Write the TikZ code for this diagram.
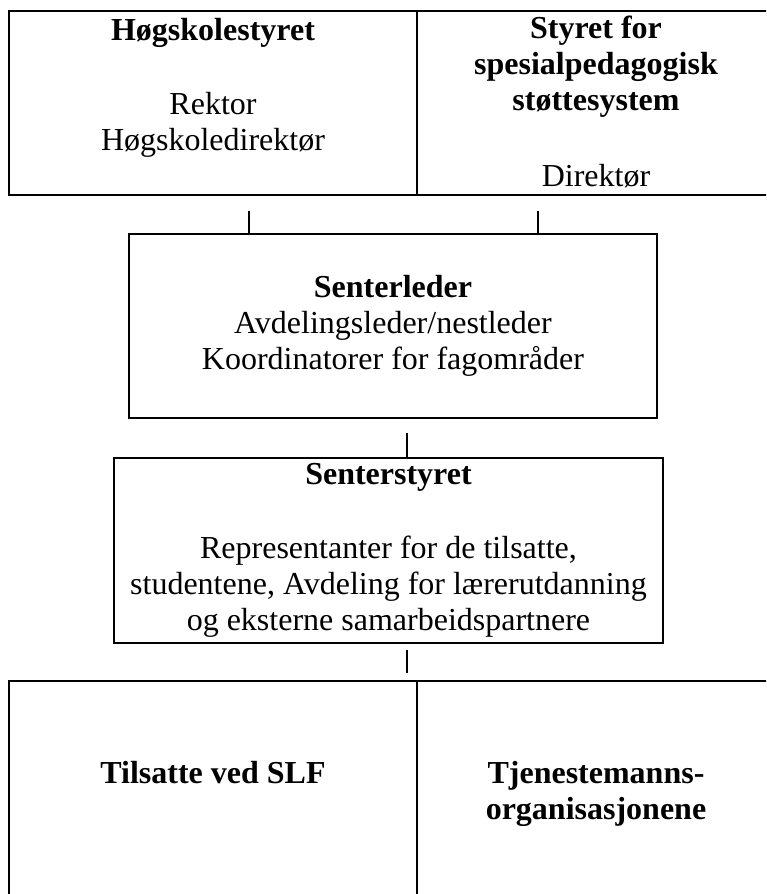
\documentclass[tikz,border=0pt]{standalone}
\usepackage{fontspec}
\setmainfont{Liberation Serif}
\usetikzlibrary{positioning}

\tikzset{
	orgbox/.style={draw, line width=1.1pt, inner sep=0pt},
	link/.style={line width=0.6pt},
	txt/.style={align=center, inner sep=0pt, font=\fontsize{16}{18}\selectfont},
}

\begin{document}
\begin{tikzpicture}[x=0.5pt, y=-0.5pt]
	\useasboundingbox (0,0) rectangle (766,894);
	\clip (0,0) rectangle (766,894);
	% the two boards on top
	\node[orgbox, minimum width=204pt, minimum height=92pt] (hs) at (213,103) {};
	\node[orgbox, minimum width=179pt, minimum height=92pt] (sps) at (596,103) {};
	\node[txt, below=4.2pt of hs.north] (hsT) {\textbf{Høgskolestyret}\\[19pt]Rektor\\Høgskoledirektør};
	\node[txt, below=3pt of sps.north] (spsT) {\textbf{Styret for}\\\textbf{spesialpedagogisk}\\\textbf{støttesystem}\\[20pt]Direktør};
	% centre
	\node[orgbox, txt, minimum width=264pt, minimum height=92pt] (sl) at (393,326)
		{\textbf{Senterleder}\\Avdelingsleder/nestleder\\Koordinatorer for fagområder};
	\node[orgbox, txt, minimum width=274.5pt, minimum height=92.5pt] (ss) at (388.5,550.5)
		{\textbf{Senterstyret}\\[19pt]Representanter for de tilsatte,\\studentene, Avdeling for lærerutdanning\\og eksterne samarbeidspartnere};
	% bottom row
	\node[orgbox, minimum width=204pt, minimum height=120pt] (tv) at (213,801) {};
	\node[orgbox, minimum width=179pt, minimum height=120pt] (to) at (596,801) {};
	\node[txt, below=40.5pt of tv.north] (tvT) {\textbf{Tilsatte ved SLF}};
	\node[txt, below=40.5pt of to.north] (toT) {\textbf{Tjenestemanns-}\\\textbf{organisasjonene}};
	% lines
	\coordinate (k1) at (249,211);
	\coordinate (k2) at (538,211);
	\coordinate (k3) at (407,433);
	\coordinate (k4) at (407,650);
	\coordinate (k5) at (407,673);
	\draw[link] (k1) -- (k1 |- sl.north);
	\draw[link] (k2) -- (k2 |- sl.north);
	\draw[link] (k3) -- (k3 |- ss.north);
	\draw[link] (k4) -- (k5);
\end{tikzpicture}
\end{document}
